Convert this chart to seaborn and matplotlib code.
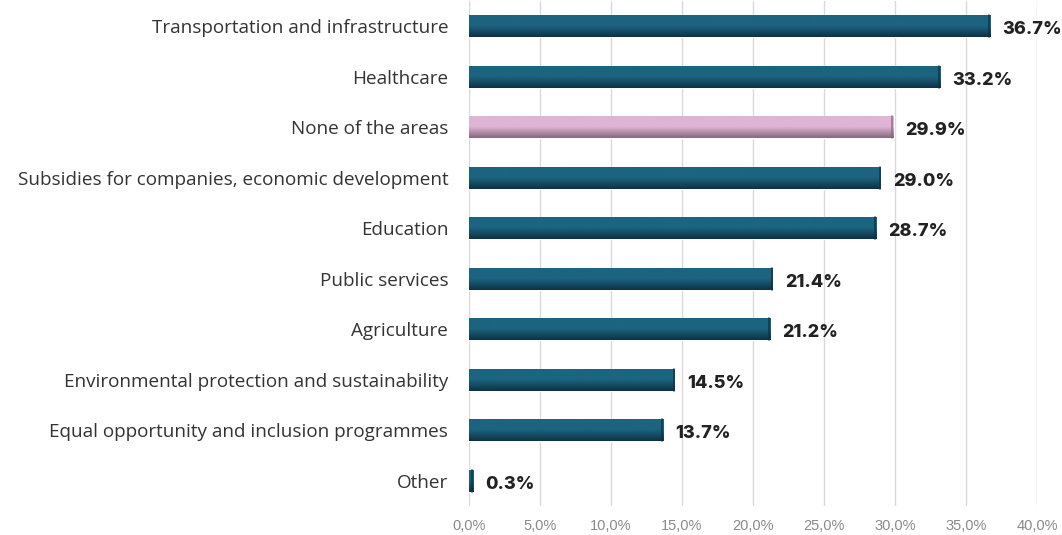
import numpy as np
import pandas as pd
import matplotlib
matplotlib.use('Agg')
import matplotlib.pyplot as plt
import seaborn as sns
from matplotlib.colors import LinearSegmentedColormap

# Chart data
categories = [
    'Transportation and infrastructure',
    'Healthcare',
    'None of the areas',
    'Subsidies for companies, economic development',
    'Education',
    'Public services',
    'Agriculture',
    'Environmental protection and sustainability',
    'Equal opportunity and inclusion programmes',
    'Other',
]
values = [36.7, 33.2, 29.9, 29.0, 28.7, 21.4, 21.2, 14.5, 13.7, 0.3]
highlight = 'None of the areas'
x_ticks = [0, 5, 10, 15, 20, 25, 30, 35, 40]

df = pd.DataFrame({'category': categories, 'value': values})
df['group'] = np.where(df['category'] == highlight, 'none', 'area')

sns.set_style('white')
plt.rcParams['font.family'] = ['Open Sans', 'DejaVu Sans']

fig = plt.figure(figsize=(10.62, 5.35), dpi=100)
ax = fig.add_axes([0.4416, 0.054, 0.5348, 0.944])

palette = {'area': '#1c6480', 'none': '#e0b4d4'}
sns.barplot(data=df, x='value', y='category', hue='group', palette=palette,
            dodge=False, legend=False, width=0.44, ax=ax, zorder=2)

# gradient shading on each bar (lighter top, darker bottom edge)
dark = {'area': '#0d3145', 'none': '#85687d'}
grad = np.linspace(0, 1, 100).reshape(-1, 1)
for patch in ax.patches:
    w = patch.get_width()
    if w <= 0:
        continue
    x0, y0 = patch.get_x(), patch.get_y()
    h = patch.get_height()
    idx = int(round(y0 + h / 2))
    g = df['group'].iloc[idx]
    cmap = LinearSegmentedColormap.from_list('g', [palette[g], palette[g], dark[g]])
    im = ax.imshow(grad, cmap=cmap, aspect='auto', zorder=3,
                   extent=(x0, x0 + w, y0 + h, y0), interpolation='bicubic')
    im.set_clip_path(patch)
    ax.plot([x0 + w - 0.08, x0 + w - 0.08], [y0, y0 + h], color=dark[g],
            lw=1.2, alpha=0.8, zorder=4)

for i, v in enumerate(values):
    ax.text(v + 0.85, i + 0.07, f'{v:.1f}%', va='center', ha='left',
            fontsize=13, fontweight='heavy', color='#222222', zorder=5,
            family=['Inter', 'DejaVu Sans'])

ax.set_xlim(0, 40)
ax.set_ylim(len(categories) - 0.5, -0.5)
ax.set_xticks(x_ticks)
ax.set_xticklabels([f'{t:.1f}%'.replace('.', ',') for t in x_ticks],
                   fontsize=10.5, color='#8a8a8a', family=['Liberation Sans', 'DejaVu Sans'])
ax.tick_params(axis='x', length=0, pad=9)
ax.tick_params(axis='y', length=0, pad=15, labelsize=13.6, labelcolor='#333333')
ax.set_xlabel('')
ax.set_ylabel('')
ax.grid(axis='x', color='#d9d9d9', lw=1, zorder=0)
ax.set_axisbelow(True)
sns.despine(ax=ax, left=True, bottom=True)

fig.savefig('out.png', dpi=100)
